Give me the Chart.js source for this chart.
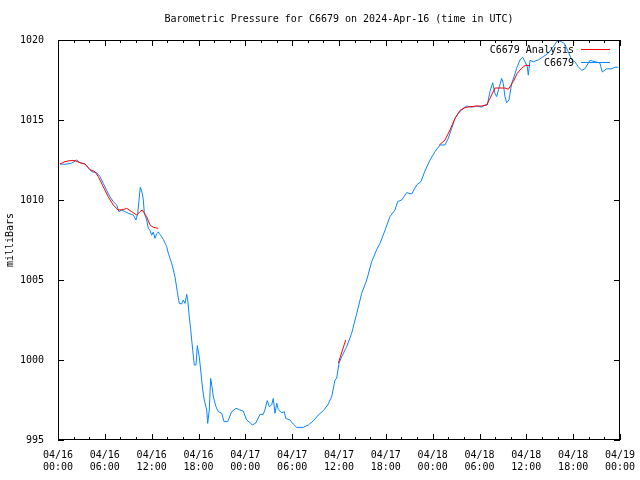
<!DOCTYPE html>
<html>
<head>
<meta charset="utf-8">
<script src="https://cdn.jsdelivr.net/npm/chart.js@4/dist/chart.umd.min.js"></script>
<style>
html,body{margin:0;padding:0;background:#fff;}
canvas{display:block;}
</style>
</head>
<body>
<canvas id="c" width="640" height="480"></canvas>
<script>
// ---- data (hours since 2024-04-16 00:00 UTC) ----
const obsHours = [0.26,0.9,1.75,2.4,2.82,3.46,3.88,4.32,4.96,5.38,5.8,6.24,6.66,7.08,7.52,7.81,8.16,9.0,9.65,9.99,10.21,10.38,10.54,10.8,10.93,11.06,11.36,11.57,11.79,12.0,12.21,12.43,12.64,12.85,13.28,13.49,13.93,14.13,14.57,14.99,15.28,15.54,15.85,16.05,16.27,16.49,16.62,16.82,17.0,17.26,17.46,17.68,17.85,18.1,18.28,18.54,18.74,19.05,19.18,19.38,19.56,19.73,19.9,20.24,20.54,20.97,21.27,21.74,22.25,22.8,23.23,23.74,24.17,24.6,24.89,25.33,25.88,26.3,26.52,26.81,27.07,27.38,27.58,27.8,28.02,28.22,28.66,28.99,29.17,29.72,30.14,30.58,31.42,32.07,32.71,33.35,33.99,34.55,35.06,35.49,35.7,36.0,36.34,36.98,37.62,38.27,38.91,39.55,40.19,40.83,41.25,41.89,42.53,43.17,43.52,44.03,44.67,45.31,45.95,46.5,47.0,47.66,48.3,48.94,49.58,50.0,50.44,50.86,51.28,51.92,52.36,53.0,53.64,54.28,54.7,55.0,55.34,55.69,55.98,56.2,56.5,56.84,57.05,57.26,57.48,57.78,58.12,58.42,58.76,59.18,59.53,59.83,60.12,60.25,60.47,60.89,61.53,62.17,62.81,63.45,63.89,64.31,64.86,65.37,65.81,66.23,66.65,67.09,67.51,68.15,68.79,69.22,69.43,69.73,70.29,70.93,71.36,71.78];
const obsPressure = [1012.25,1012.23,1012.3,1012.5,1012.33,1012.25,1012.0,1011.77,1011.7,1011.46,1011.04,1010.6,1010.2,1009.9,1009.69,1009.27,1009.375,1009.17,1009.06,1008.75,1009.17,1010.0,1010.8,1010.42,1010.0,1009.17,1008.75,1008.23,1008.1,1007.8,1008.0,1007.6,1007.9,1008.0,1007.7,1007.54,1007.08,1006.67,1006.04,1005.2,1004.27,1003.54,1003.5,1003.75,1003.54,1004.1,1003.75,1002.7,1001.9,1000.6,999.69,999.69,1000.9,1000.2,999.375,998.125,997.5,996.875,996.04,996.875,998.85,998.33,997.7,997.08,996.77,996.67,996.15,996.15,996.77,996.98,996.9,996.8,996.25,996.08,995.94,996.05,996.6,996.6,996.9,997.46,997.08,997.2,997.6,996.67,997.3,996.9,996.7,996.77,996.35,996.25,996.0,995.79,995.79,995.94,996.2,996.56,996.83,997.19,997.7,998.75,998.85,999.8,1000.2,1000.83,1001.67,1002.9,1004.17,1005.0,1006.15,1006.9,1007.29,1008.1,1008.96,1009.375,1009.9,1010.0,1010.46,1010.375,1010.94,1011.15,1011.8,1012.5,1013.02,1013.44,1013.44,1013.85,1014.48,1015.1,1015.42,1015.73,1015.875,1015.8,1015.875,1015.8,1015.94,1015.94,1016.77,1017.33,1016.67,1016.46,1017.0,1017.6,1017.29,1016.46,1016.08,1016.25,1017.29,1017.7,1018.23,1018.75,1018.92,1018.64,1018.33,1017.8,1018.73,1018.64,1018.75,1018.96,1019.17,1019.58,1019.9,1019.94,1019.79,1019.27,1018.75,1018.64,1018.33,1018.1,1018.2,1018.73,1018.64,1018.6,1018.55,1018.0,1018.2,1018.2,1018.3,1018.3];

// analysis series; null marks a gap
const anaHours = [0.26,0.9,1.54,2.18,2.82,3.46,4.1,4.74,5.16,5.8,6.44,7.08,7.72,8.37,8.8,9.44,10.08,10.5,10.8,11.36,11.79,12.21,12.85,13.5,35.91,36.86,37.5,48.85,49.58,50.22,50.86,51.5,52.14,52.78,53.64,54.28,54.92,55.34,55.98,56.62,57.26,57.69,58.33,58.84,59.4,59.83,60.47];
const anaPressure = [1012.25,1012.4,1012.46,1012.46,1012.33,1012.25,1011.9,1011.77,1011.46,1010.83,1010.2,1009.69,1009.375,1009.4,1009.48,1009.27,1009.06,1009.27,1009.375,1008.96,1008.44,1008.29,1008.23,null,999.8,1001.25,null,1013.44,1013.75,1014.375,1015.1,1015.6,1015.77,1015.83,1015.875,1015.875,1015.94,1016.35,1017.0,1017.0,1017.0,1016.92,1017.4,1017.92,1018.23,1018.4,1018.4];

const seriesNames = ['C6679 Analysis','C6679'];
const tickDates = ['04/16','04/16','04/16','04/16','04/17','04/17','04/17','04/17','04/18','04/18','04/18','04/18','04/19'];
const tickTimes = ['00:00','06:00','12:00','18:00','00:00','06:00','12:00','18:00','00:00','06:00','12:00','18:00','00:00'];
const titleText = 'Barometric Pressure for C6679 on 2024-Apr-16 (time in UTC)';
const yTitle = 'milliBars';

const FONT = 'DejaVu Sans Mono';
const toPts = (xs, ys) => xs.map((x, i) => ({x: x, y: ys[i]}));

const frame = {
  id: 'frame',
  afterDraw(chart) {
    const ctx = chart.ctx, a = chart.chartArea;
    const xs = chart.scales.x, ys = chart.scales.y;
    ctx.save();
    ctx.strokeStyle = '#000';
    ctx.lineWidth = 1;
    ctx.strokeRect(a.left + 0.5, a.top + 0.5, a.right - a.left - 1, a.bottom - a.top - 1);
    ctx.beginPath();
    for (let h = 0; h <= 72; h += 2) {
      const px = Math.round(xs.getPixelForValue(h)) + 0.5;
      const len = (h % 6 === 0) ? 6 : 3;
      ctx.moveTo(px, a.bottom); ctx.lineTo(px, a.bottom - len);
      ctx.moveTo(px, a.top); ctx.lineTo(px, a.top + len);
    }
    for (let v = 995; v <= 1020; v += 5) {
      const py = Math.round(ys.getPixelForValue(v)) + 0.5;
      ctx.moveTo(a.left, py); ctx.lineTo(a.left + 6, py);
      ctx.moveTo(a.right, py); ctx.lineTo(a.right - 6, py);
    }
    ctx.stroke();
    // title
    ctx.fillStyle = '#000';
    ctx.font = '10px "' + FONT + '"';
    ctx.textAlign = 'center';
    ctx.textBaseline = 'middle';
    ctx.fillText(titleText, (a.left + a.right) / 2, 19);
    // legend
    ctx.textAlign = 'right';
    chart.data.datasets.forEach((ds, i) => {
      const y = 49 + i * 13;
      ctx.fillStyle = '#000';
      ctx.fillText(ds.label, 574, y + 1);
      ctx.strokeStyle = ds.borderColor;
      ctx.beginPath();
      ctx.moveTo(581, y + 0.5); ctx.lineTo(610, y + 0.5);
      ctx.stroke();
    });
    ctx.restore();
  }
};

new Chart(document.getElementById('c'), {
  type: 'line',
  data: {
    datasets: [
      {label: seriesNames[0], data: toPts(anaHours, anaPressure), borderColor: '#ff0000', borderWidth: 1, pointRadius: 0, tension: 0, spanGaps: false, order: 0},
      {label: seriesNames[1], data: toPts(obsHours, obsPressure), borderColor: '#0a84ff', borderWidth: 1, pointRadius: 0, tension: 0, order: 1}
    ]
  },
  options: {
    responsive: false,
    animation: false,
    layout: {padding: {left: 0, right: 20, top: 40, bottom: 0}},
    plugins: {legend: {display: false}, title: {display: false}, tooltip: {enabled: false}},
    scales: {
      x: {
        type: 'linear', min: 0, max: 72,
        grid: {display: false},
        border: {display: false},
        afterFit(s) { s.height = 40; s.paddingLeft = 0; s.paddingRight = 0; },
        ticks: {
          stepSize: 2, autoSkip: false, maxRotation: 0,
          color: '#000', font: {family: FONT, size: 10}, padding: 1,
          callback: (v) => (v % 6 === 0) ? [tickDates[v / 6], tickTimes[v / 6]] : ''
        }
      },
      y: {
        min: 995, max: 1020,
        grid: {display: false},
        border: {display: false},
        afterFit(s) { s.width = 58; s.paddingTop = 0; s.paddingBottom = 0; },
        ticks: {stepSize: 5, color: '#000', font: {family: FONT, size: 10}, padding: 6, callback: (v) => String(v)},
        title: {display: true, text: yTitle, color: '#000', font: {family: FONT, size: 10}, padding: {top: 4, bottom: 0}}
      }
    }
  },
  plugins: [frame]
});
</script>
</body>
</html>
